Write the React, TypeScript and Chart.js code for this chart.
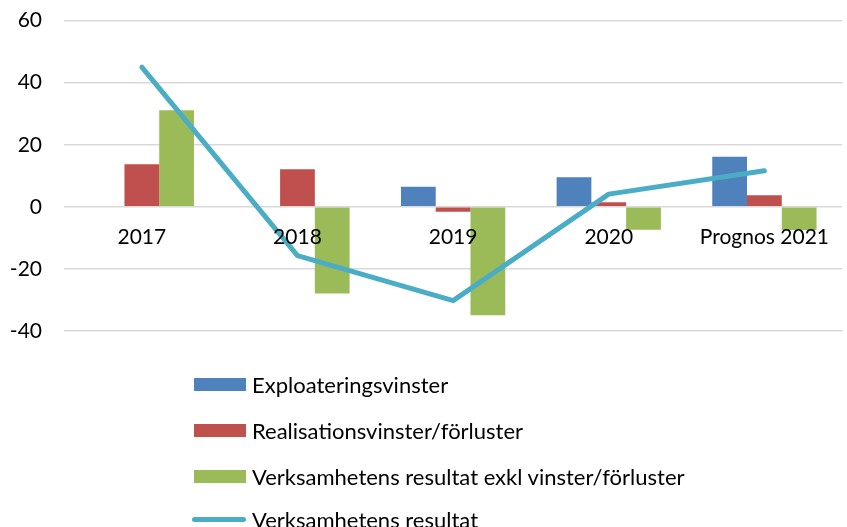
import React, { useEffect, useRef } from 'react';
import { Chart, registerables } from 'chart.js';
Chart.register(...registerables);

const categories = ['2017', '2018', '2019', '2020', 'Prognos 2021'];
const seriesNames = [
  'Exploateringsvinster',
  'Realisationsvinster/förluster',
  'Verksamhetens resultat exkl vinster/förluster',
  'Verksamhetens resultat',
];
const exploatering = [0, 0, 6.5, 9.5, 16.1];
const realisation = [13.7, 12.1, -1.6, 1.5, 3.7];
const verksamhetExkl = [31.1, -27.9, -34.9, -7.4, -7.5];
const verksamhet = [45, -15.7, -30.2, 4.1, 11.6];
const yMin = -40;
const yMax = 60;
const yStep = 20;
const colors = ['#4F81BD', '#C0504D', '#9BBB59', '#4BACC6'];

const FONT = 'Lato, "Open Sans", sans-serif';

export default function App() {
  const ref = useRef<HTMLCanvasElement>(null);
  useEffect(() => {
    if (!ref.current) return;
    const chart = new Chart(ref.current, {
      type: 'bar',
      data: {
        labels: categories,
        datasets: [
          { type: 'line', label: seriesNames[3], data: verksamhet, borderColor: colors[3], backgroundColor: colors[3], borderWidth: 5, pointRadius: 0, tension: 0, borderCapStyle: 'round', borderJoinStyle: 'round', order: 0 },
          { label: seriesNames[0], data: exploatering, backgroundColor: colors[0], order: 1, categoryPercentage: 0.67, barPercentage: 1 },
          { label: seriesNames[1], data: realisation, backgroundColor: colors[1], order: 1, categoryPercentage: 0.67, barPercentage: 1 },
          { label: seriesNames[2], data: verksamhetExkl, backgroundColor: colors[2], order: 1, categoryPercentage: 0.67, barPercentage: 1 },
        ] as any,
      },
      options: {
        animation: false,
        responsive: true,
        maintainAspectRatio: false,
        layout: { padding: { top: 7, bottom: 196, left: 0, right: 0 } },
        plugins: { legend: { display: false }, tooltip: { enabled: false } },
        scales: {
          x: {
            position: { y: 0 } as any,
            grid: { display: false, drawTicks: false, tickLength: 0 },
            border: { display: false },
            ticks: { z: 1, font: { family: FONT, size: 21 }, color: '#000', padding: 18, maxRotation: 0, autoSkip: false } as any,
            afterFit: (s: any) => { s.height = 0; },
          },
          y: {
            min: yMin,
            max: yMax,
            ticks: { stepSize: yStep, font: { family: FONT, size: 21 }, color: '#000', padding: 22 },
            grid: { color: '#d9d9d9', lineWidth: 1.5, drawTicks: false },
            border: { display: false },
            afterFit: (s: any) => { s.width = 64; },
          },
        },
      },
    });
    return () => chart.destroy();
  }, []);

  const legendRows = [
    { name: seriesNames[0], color: colors[0], kind: 'box', cy: 384 },
    { name: seriesNames[1], color: colors[1], kind: 'box', cy: 430 },
    { name: seriesNames[2], color: colors[2], kind: 'box', cy: 476 },
    { name: seriesNames[3], color: colors[3], kind: 'line', cy: 519 },
  ];

  return (
    <div style={{ position: 'fixed', left: 0, top: 0, width: 847, height: 527, background: '#fff', overflow: 'hidden' }}>
      <div style={{ position: 'absolute', left: 0, top: -14, width: 847, height: 541 }}>
        <canvas ref={ref} />
      </div>
      {legendRows.map((r) => (
        <div key={r.name} style={{ position: 'absolute', left: 192, top: r.cy - 15, height: 30, display: 'flex', alignItems: 'center', fontFamily: FONT, fontSize: 22, color: '#000', whiteSpace: 'nowrap' }}>
          {r.kind === 'box' ? (
            <div style={{ width: 52, height: 13, marginLeft: 2, background: r.color }} />
          ) : (
            <div style={{ width: 54, height: 5, borderRadius: 3, background: r.color }} />
          )}
          <span style={{ marginLeft: 6 }}>{r.name}</span>
        </div>
      ))}
    </div>
  );
}
